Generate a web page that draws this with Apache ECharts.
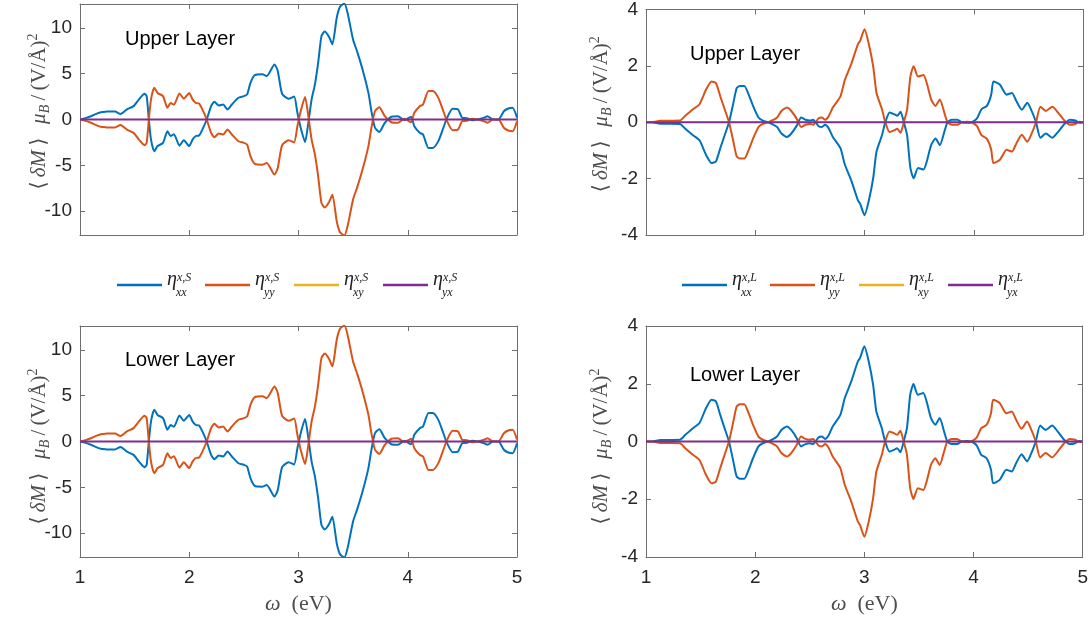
<!DOCTYPE html>
<html>
<head>
<meta charset="utf-8">
<script src="https://cdn.jsdelivr.net/npm/echarts@6/dist/echarts.min.js"></script>
<style>
  html, body { margin: 0; padding: 0; background: #fff; }
  #chart { width: 1091px; height: 625px; }
</style>
</head>
<body>
<div id="chart"></div>
<script>
// photon energy knots (eV) for the spin (S) panels
const omegaS = [
  1.00,1.05,1.10,1.15,1.19,1.24,1.28,1.32,1.37,1.43,
  1.49,1.54,1.59,1.61,1.63,1.65,1.68,1.71,1.76,1.80,
  1.83,1.86,1.91,1.95,2.00,2.03,2.06,2.09,2.12,2.16,
  2.20,2.23,2.27,2.31,2.35,2.39,2.45,2.50,2.53,2.56,
  2.60,2.67,2.71,2.78,2.81,2.85,2.91,2.96,2.99,3.02,
  3.06,3.09,3.12,3.15,3.18,3.21,3.24,3.28,3.31,3.35,
  3.38,3.42,3.45,3.50,3.54,3.59,3.64,3.67,3.70,3.74,
  3.79,3.85,3.91,3.97,4.03,4.06,4.11,4.14,4.19,4.23,
  4.28,4.32,4.36,4.41,4.46,4.50,4.54,4.59,4.64,4.70,
  4.73,4.78,4.83,4.88,4.92,4.96,5.00
];
// upper layer, eta_xx^{x,S}
const upperXX_S = [
  0,0.15,0.36,0.62,0.80,0.86,0.88,0.88,0.60,1.10,
  1.46,2.20,2.80,2.55,0,-2.20,-3.47,-2.90,-2.55,-1.28,
  -1.80,-1.60,-2.85,-2.26,-2.90,-2.20,-1.80,-1.75,-1.10,0,
  1.46,1.93,1.53,1.64,1.10,1.64,2.37,2.55,2.74,4.00,
  4.85,4.93,4.74,6.00,5.30,2.80,2.26,2.50,0.73,-0.90,
  -2.45,-0.36,2.20,3.80,6.20,9.10,9.60,9.00,8.20,11.10,
  12.30,12.65,11.60,8.70,7.30,5.30,2.90,0.73,-0.90,-1.35,
  -0.36,0.30,0.36,-0.07,0.30,-0.73,-1.45,-1.64,-3.10,-3.10,
  -2.36,-1.10,0.18,1.16,1.09,0.18,0.15,-0.07,0,0.20,
  0.36,0,0,0.90,1.20,1.27,0.20
];
// upper layer, eta_yy^{x,S}
const upperYY_S = [
  0,-0.15,-0.36,-0.62,-0.80,-0.86,-0.88,-0.88,-0.60,-1.10,
  -1.46,-2.20,-2.80,-2.55,0,2.20,3.47,2.90,2.55,1.28,
  1.80,1.60,2.85,2.26,2.90,2.20,1.80,1.75,1.10,0,
  -1.46,-1.93,-1.53,-1.64,-1.10,-1.64,-2.37,-2.55,-2.74,-4.00,
  -4.85,-4.93,-4.74,-6.00,-5.30,-2.80,-2.26,-2.50,-0.73,0.90,
  2.45,0.36,-2.20,-3.80,-6.20,-9.10,-9.60,-9.00,-8.20,-11.10,
  -12.30,-12.65,-11.60,-8.70,-7.30,-5.30,-2.90,-0.73,0.90,1.35,
  0.36,-0.30,-0.36,0.07,-0.30,0.73,1.45,1.64,3.10,3.10,
  2.36,1.10,-0.18,-1.16,-1.09,-0.18,-0.15,0.07,0,-0.20,
  -0.36,0,0,-0.90,-1.20,-1.27,-0.20
];

// photon energy knots (eV) for the orbital (L) panels
const omegaL = [
  1.00,1.05,1.13,1.31,1.36,1.43,1.49,1.55,1.60,1.64,
  1.68,1.72,1.76,1.80,1.83,1.86,1.90,1.94,1.98,2.03,
  2.07,2.13,2.20,2.24,2.29,2.33,2.38,2.42,2.46,2.50,
  2.53,2.58,2.61,2.64,2.67,2.71,2.78,2.82,2.88,2.94,
  2.96,3.00,3.04,3.08,3.11,3.16,3.19,3.23,3.27,3.30,
  3.33,3.36,3.39,3.42,3.45,3.49,3.54,3.57,3.61,3.65,
  3.69,3.73,3.76,3.80,3.85,3.89,3.94,3.98,4.03,4.07,
  4.12,4.16,4.18,4.24,4.30,4.35,4.39,4.44,4.49,4.52,
  4.57,4.61,4.66,4.72,4.77,4.83,4.88,4.93,4.97,5.00
];
// upper layer, eta_xx^{x,L}
const upperXX_L = [
  0,0,-0.05,-0.06,-0.23,-0.46,-0.64,-1.16,-1.45,-1.39,
  -0.92,-0.46,0,0.69,1.21,1.29,1.29,0.98,0.58,0.17,
  0.06,-0.02,-0.17,-0.40,-0.52,-0.40,-0.12,0.17,0.09,0.06,
  0.09,-0.14,-0.17,-0.09,-0.20,-0.52,-0.92,-1.50,-2.08,-2.77,
  -2.89,-3.30,-2.77,-1.97,-1.04,-0.46,0,0.35,0.29,0.23,
  0.37,0,-0.46,-1.62,-1.99,-1.62,-1.68,-1.39,-0.81,-0.58,
  -0.81,-0.35,0,0.09,0.09,0,-0.02,0,0.14,0.46,
  0.58,0.98,1.45,1.33,0.98,1.04,0.75,0.44,0.69,0.49,
  0,-0.55,-0.40,-0.55,-0.35,-0.06,0.09,0.06,-0.02,0
];
// upper layer, eta_yy^{x,L}
const upperYY_L = [
  0,0,0.05,0.06,0.23,0.46,0.64,1.16,1.45,1.39,
  0.92,0.46,0,-0.69,-1.21,-1.29,-1.29,-0.98,-0.58,-0.17,
  -0.06,0.02,0.17,0.40,0.52,0.40,0.12,-0.17,-0.09,-0.06,
  -0.09,0.14,0.17,0.09,0.20,0.52,0.92,1.50,2.08,2.77,
  2.89,3.30,2.77,1.97,1.04,0.46,0,-0.35,-0.29,-0.23,
  -0.37,0,0.46,1.62,1.99,1.62,1.68,1.39,0.81,0.58,
  0.81,0.35,0,-0.09,-0.09,0,0.02,0,-0.14,-0.46,
  -0.58,-0.98,-1.45,-1.33,-0.98,-1.04,-0.75,-0.44,-0.69,-0.49,
  0,0.55,0.40,0.55,0.35,0.06,-0.09,-0.06,0.02,0
];

// off-diagonal components stay at zero
const omegaFlat = [1, 5];
const offDiagXY = [0, 0];
const offDiagYX = [0, 0];

// lower layer: the xx and yy responses trade places
const lowerXX_S = upperYY_S, lowerYY_S = upperXX_S;
const lowerXX_L = upperYY_L, lowerYY_L = upperXX_L;

const colors = ['#0072BD', '#D95319', '#EDB120', '#7E2F8E'];
const widths = [2, 2, 1, 2];
const components = ['xx', 'yy', 'xy', 'yx'];
const spinTicks = [-10, -5, 0, 5, 10];
const orbTicks = [-4, -2, 0, 2, 4];

function pairs(xs, ys) {
  return xs.map((x, i) => [x, ys[i]]);
}

const serif = '"Liberation Serif", "DejaVu Serif", serif';
const sans = '"Liberation Sans", Arial, sans-serif';
const nameColor = '#4d4d4d';
const boxColor = '#6e6e6e';
const labelColor = '#262626';

const yNameRich = {
  t: { fontFamily: serif, fontSize: 21, color: nameColor, lineHeight: 26 },
  i: { fontFamily: serif, fontSize: 21, color: nameColor, lineHeight: 26, fontStyle: 'italic' },
  sb: { fontFamily: serif, fontSize: 14, color: nameColor, fontStyle: 'italic', verticalAlign: 'bottom' },
  sp: { fontFamily: serif, fontSize: 14, color: nameColor, verticalAlign: 'top' }
};
// thin spaces mimic the looser LaTeX spacing
const yName = '{t|⟨\u2009}{i|δM}{t|\u2009⟩\u2009\u2009 }{i|μ}{sb|B}{t|\u2009/\u2009(V/Å)}{sp|2}';

const panels = [
  { left: 80, top: 4, omega: omegaS, xx: upperXX_S, yy: upperYY_S, tag: 'S', lim: 12.6, ticks: spinTicks, labels: false, title: 'Upper Layer', tx: 125, ty: 29, gap: 28, pad: [0, 0, 0, 16] },
  { left: 646, top: 4, omega: omegaL, xx: upperXX_L, yy: upperYY_L, tag: 'L', lim: 4, ticks: orbTicks, labels: false, title: 'Upper Layer', tx: 690, ty: 44, gap: 32, pad: [0, 0, 0, 16] },
  { left: 80, top: 326, omega: omegaS, xx: lowerXX_S, yy: lowerYY_S, tag: 'S', lim: 12.6, ticks: spinTicks, labels: true, title: 'Lower Layer', tx: 125, ty: 350, gap: 28, pad: [0, 10, 0, 0] },
  { left: 646, top: 326, omega: omegaL, xx: lowerXX_L, yy: lowerYY_L, tag: 'L', lim: 4, ticks: orbTicks, labels: true, title: 'Lower Layer', tx: 690, ty: 365, gap: 32, pad: [0, 10, 0, 0] }
];

const grid = [], xAxis = [], yAxis = [], series = [], graphic = [];

panels.forEach((p, k) => {
  grid.push({ left: p.left, top: p.top, width: 437, height: 231, show: false });
  const axisLine = { show: true, onZero: false, lineStyle: { color: boxColor, width: 1 } };
  const tick = { show: true, inside: true, length: 5, lineStyle: { color: boxColor } };
  xAxis.push({
    gridIndex: k, type: 'value', min: 1, max: 5, interval: 1, position: 'bottom',
    axisLine: axisLine, axisTick: tick, splitLine: { show: false },
    axisLabel: { show: p.labels, color: labelColor, fontFamily: sans, fontSize: 19, margin: 11 },
    name: p.labels ? '{i|ω}{t|  (eV)}' : '', nameLocation: 'middle', nameGap: 36,
    nameMoveOverlap: false,
    nameTextStyle: { rich: {
      i: { fontFamily: serif, fontSize: 22, fontStyle: 'italic', color: nameColor },
      t: { fontFamily: serif, fontSize: 22, color: nameColor }
    } }
  });
  xAxis.push({
    gridIndex: k, type: 'value', min: 1, max: 5, interval: 1, position: 'top',
    axisLine: axisLine, axisTick: tick, axisLabel: { show: false }, splitLine: { show: false }
  });
  const tickVals = { customValues: p.ticks };
  yAxis.push({
    gridIndex: k, type: 'value', min: -p.lim, max: p.lim, position: 'left',
    axisLine: axisLine, splitLine: { show: false },
    axisTick: Object.assign({}, tick, tickVals),
    axisLabel: Object.assign({ color: labelColor, fontFamily: sans, fontSize: 19, margin: 8 }, tickVals),
    name: yName, nameLocation: 'middle', nameGap: p.gap, nameRotate: 90,
    nameMoveOverlap: false,
    nameTextStyle: { rich: yNameRich, padding: p.pad }
  });
  yAxis.push({
    gridIndex: k, type: 'value', min: -p.lim, max: p.lim, position: 'right',
    axisLine: axisLine, splitLine: { show: false },
    axisTick: Object.assign({}, tick, tickVals),
    axisLabel: { show: false }
  });
  const ys = [p.xx, p.yy, offDiagXY, offDiagYX];
  components.forEach((c, j) => {
    const xs = j < 2 ? p.omega : omegaFlat;
    series.push({
      name: c + p.tag, type: 'line', xAxisIndex: 2 * k, yAxisIndex: 2 * k,
      data: pairs(xs, ys[j]), showSymbol: false, symbol: 'none', smooth: 0.2,
      lineStyle: { color: colors[j], width: widths[j] }, itemStyle: { color: colors[j] },
      z: 2 + j
    });
  });
  graphic.push({
    type: 'text', left: p.tx, top: p.ty,
    style: { text: p.title, font: '20px "Liberation Sans", Arial, sans-serif', fill: '#000' }
  });
});

// one legend component per entry so the spacing matches the figure
const legendRich = {
  e: { fontFamily: serif, fontSize: 20, fontStyle: 'italic', color: '#222', lineHeight: 16 },
  u: { fontFamily: serif, fontSize: 12, fontStyle: 'italic', color: '#222', lineHeight: 16, verticalAlign: 'top' },
  pd: { width: 9, lineHeight: 10 },
  s: { fontFamily: serif, fontSize: 12, fontStyle: 'italic', color: '#222', lineHeight: 10 }
};
const legendRows = [
  { tag: 'S', xs: [117, 205, 294, 383] },
  { tag: 'L', xs: [682, 770, 859, 948] }
];
const legend = [];
legendRows.forEach(row => {
  components.forEach((c, j) => {
    legend.push({
      data: [c + row.tag], left: row.xs[j], top: 270, padding: 0,
      icon: 'rect', itemWidth: 45, itemHeight: 2.5,
      itemStyle: { color: colors[j] },
      textStyle: { rich: legendRich },
      formatter: () => '{e|η}{u|x,' + row.tag + '}\n{pd|}{s|' + c + '}'
    });
  });
});

const chart = echarts.init(document.getElementById('chart'));
chart.setOption({
  backgroundColor: '#fff',
  animation: false,
  grid: grid,
  xAxis: xAxis,
  yAxis: yAxis,
  legend: legend,
  series: series,
  graphic: graphic
});
</script>
</body>
</html>
